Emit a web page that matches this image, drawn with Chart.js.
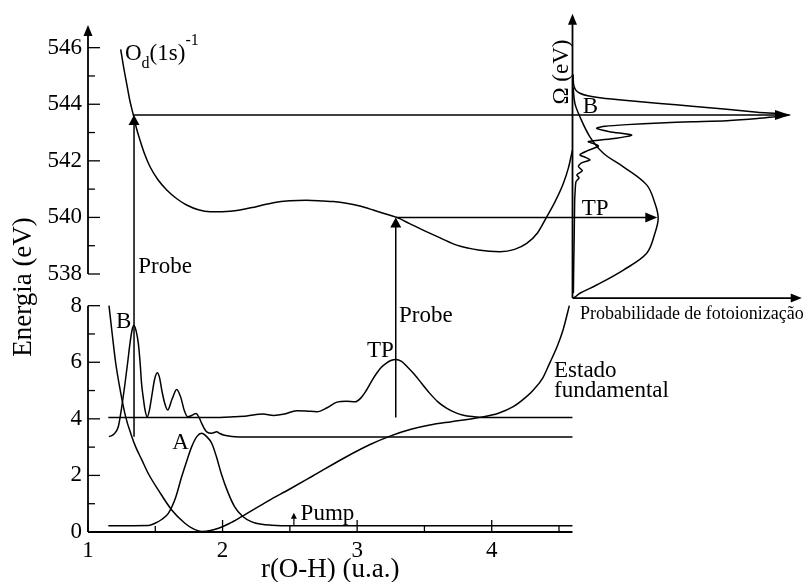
<!DOCTYPE html>
<html><head><meta charset="utf-8">
<script src="https://cdn.jsdelivr.net/npm/chart.js@4.4.1/dist/chart.umd.min.js"></script>
<style>html,body{margin:0;padding:0;background:#fff;}</style>
</head><body>
<canvas id="c" width="803" height="582"></canvas>
<script>
// ---------- data (r in u.a., energies in eV) ----------
const OFFSET = 528.88;           // broken energy axis: upper panel value = lower-axis value + OFFSET
const yTicksLower = [0, 2, 4, 6, 8];
const yMinorLower = [1, 3, 5, 7];
const yTicksUpper = [538, 540, 542, 544, 546];
const yMinorUpper = [539, 541, 543, 545];
const xTicks = [1, 2, 3, 4];
const xMinor = [1.5, 2.5, 3.5, 4.5];

// ground state potential "Estado fundamental"
const groundR = [1.156,1.18,1.205,1.24,1.28,1.32,1.355,1.40,1.45,1.523,1.622,1.72,1.78,1.845,1.91,1.97,2.05,2.14,2.34,2.5,2.67,2.92,3.1,3.245,3.4,3.54,3.7,3.91,4.05,4.16,4.25,4.31,4.38,4.43,4.49,4.53,4.577];
const groundE = [8.0,7.0,6.0,5.0,4.07,3.45,3.0,2.55,2.05,1.48,0.78,0.31,0.12,0.02,0.05,0.13,0.3,0.54,1.1,1.52,1.98,2.66,3.1,3.39,3.63,3.78,3.9,4.05,4.2,4.43,4.75,5.02,5.45,5.96,6.6,7.14,8.0];

// wave packet A (ground vibrational level)
const packetA_R = [1.151,1.45,1.498,1.55,1.597,1.65,1.696,1.74,1.77,1.81,1.845,1.88,1.92,1.955,1.99,2.04,2.09,2.15,2.217,2.29,2.365,2.5,4.6];
const packetA_E = [0.22,0.23,0.31,0.45,0.66,1.2,1.95,2.6,3.01,3.38,3.49,3.38,3.13,2.65,2.07,1.4,0.89,0.55,0.36,0.27,0.24,0.22,0.22];

// wave packet with peak B
const packetB_R = [1.156,1.19,1.225,1.25,1.275,1.295,1.312,1.328,1.342,1.358,1.374,1.387,1.398,1.412,1.424,1.44,1.456,1.473,1.495,1.515,1.532,1.548,1.57,1.592,1.625,1.659,1.69,1.715,1.741,1.77,1.803,1.825,1.845,1.865,1.882,1.92,1.957,1.98,2.006,2.07,2.2,4.6];
const packetB_E = [3.37,3.45,3.72,4.4,5.25,6.0,6.67,7.15,7.31,7.1,6.67,6.0,5.25,4.7,4.31,4.07,4.3,4.78,5.4,5.63,5.45,5.02,4.55,4.31,4.7,5.04,4.75,4.3,4.07,4.12,4.19,4.05,3.84,3.65,3.54,3.49,3.54,3.48,3.43,3.38,3.36,3.36];

// wave packet with peak TP
const packetTP_R = [1.151,1.9,1.98,2.08,2.18,2.30,2.38,2.46,2.55,2.62,2.70,2.78,2.85,2.92,2.985,3.03,3.07,3.11,3.145,3.18,3.22,3.25,3.287,3.33,3.37,3.418,3.48,3.54,3.60,3.667,3.73,3.79,3.86,3.94,4.6];
const packetTP_E = [4.05,4.05,4.05,4.07,4.10,4.17,4.12,4.17,4.29,4.28,4.25,4.40,4.59,4.62,4.60,4.75,5.02,5.35,5.61,5.82,5.98,6.06,6.10,6.03,5.85,5.61,5.25,4.90,4.60,4.37,4.22,4.13,4.08,4.05,4.05];

// core-ionized state O_d(1s)^-1
const coreR = [1.243,1.265,1.287,1.31,1.337,1.36,1.386,1.42,1.461,1.52,1.585,1.66,1.733,1.82,1.907,2.0,2.13,2.25,2.377,2.5,2.625,2.75,2.823,2.92,3.02,3.12,3.2,3.294,3.39,3.49,3.62,3.74,3.9,4.06,4.17,4.26,4.34,4.41,4.47,4.532,4.57,4.60];
const coreE = [545.94,545.3,544.74,544.15,543.62,543.15,542.74,542.25,541.79,541.33,540.97,540.66,540.44,540.27,540.20,540.20,540.26,540.38,540.52,540.59,540.61,540.58,540.56,540.50,540.40,540.26,540.14,540.0,539.78,539.55,539.27,539.02,538.85,538.79,538.87,539.08,539.45,540.03,540.55,541.2,541.75,542.38];

// photoionization spectra (probability, Omega in eV)
const specB_P = [0.003,0.005,0.015,0.034,0.07,0.126,0.25,0.402,0.55,0.709,0.85,1.0,0.85,0.709,0.55,0.402,0.25,0.15,0.111,0.17,0.272,0.2,0.073,0.1,0.119,0.07,0.034,0.06,0.08,0.04,0.027,0.045,0.02,0.03,0.016,0.012,0.010,0.008,0.006,0.004];
const specB_E = [545.05,544.70,544.50,544.39,544.30,544.23,544.13,544.03,543.93,543.82,543.72,543.62,543.50,543.42,543.38,543.34,543.28,543.22,543.15,543.03,542.91,542.80,542.68,542.60,542.52,542.36,542.21,542.12,542.03,541.92,541.80,541.65,541.5,541.4,541.26,540.9,540.62,539.45,538.5,537.33];
const specTP_P = [0.003,0.011,0.034,0.08,0.142,0.234,0.341,0.379,0.394,0.379,0.341,0.234,0.111,0.034,0.011,0.003];
const specTP_E = [544.6,544.03,543.56,542.85,542.27,541.79,541.15,540.50,539.97,539.44,538.73,538.14,537.61,537.32,537.18,537.15];

// probe / pump transitions
const probeB = {r: 1.342, from: 3.37, to: 543.62, specTip: 1.0};
const probeTP = {r: 3.287, from: 4.05, to: 540.0, specTip: 0.39};
const pump = {r: 2.53, from: 0.22, to: 0.68};

// ---------- chart ----------
const SERIF = '"Liberation Serif", "Times New Roman", serif';
const X_MAX = 1 + 715 / 134.57;
const Y_MAX = 532 / 28.29;
const P_MIN = -(572.5 - 88) / 217.5, P_MAX = (803 - 572.5) / 217.5;

const pts = (xs, ys) => xs.map((v, i) => ({x: v, y: ys[i]}));
const base = {showLine: true, pointRadius: 0, borderColor: '#000', borderWidth: 1.5, fill: false};
const lowCurve = (xs, ys) => Object.assign({}, base, {data: pts(xs, ys), xAxisID: 'x', yAxisID: 'y', cubicInterpolationMode: 'monotone'});

const datasets = [
  lowCurve(groundR, groundE),
  lowCurve(packetA_R, packetA_E),
  lowCurve(packetB_R, packetB_E),
  lowCurve(packetTP_R, packetTP_E),
  Object.assign({}, base, {data: pts(coreR, coreE), xAxisID: 'x', yAxisID: 'yU', cubicInterpolationMode: 'monotone'}),
  Object.assign({}, base, {data: pts(specB_P, specB_E), xAxisID: 'xP', yAxisID: 'yU', tension: 0.25}),
  Object.assign({}, base, {data: pts(specTP_P, specTP_E), xAxisID: 'xP', yAxisID: 'yU', tension: 0.35})
];

const deco = {
  id: 'deco',
  afterDatasetsDraw(chart) {
    const {ctx, scales} = chart;
    const X = v => scales.x.getPixelForValue(v);
    const Y = v => scales.y.getPixelForValue(v);
    const YU = v => scales.yU.getPixelForValue(v);
    const XP = v => scales.xP.getPixelForValue(v);
    ctx.save();
    ctx.strokeStyle = '#000'; ctx.fillStyle = '#000'; ctx.lineCap = 'butt';
    const line = (x1, y1, x2, y2, w) => { ctx.lineWidth = w || 1.5; ctx.beginPath(); ctx.moveTo(x1, y1); ctx.lineTo(x2, y2); ctx.stroke(); };
    const head = (tx, ty, dx, dy, len, w) => {
      len = len || 11; w = w || 10;
      const bx = tx - dx * len, by = ty - dy * len, px = -dy, py = dx;
      ctx.beginPath(); ctx.moveTo(tx, ty);
      ctx.lineTo(bx + px * w / 2, by + py * w / 2); ctx.lineTo(bx - px * w / 2, by - py * w / 2);
      ctx.closePath(); ctx.fill();
    };
    // axes of the main plot
    const x0 = X(1);
    line(x0, Y(0), x0, Y(8), 1.8);
    line(x0, YU(538), x0, YU(546.8) + 6, 1.8); head(x0, YU(546.8), 0, -1, 11, 9);
    line(x0, Y(0), X(4.6), Y(0), 1.8);
    yTicksLower.forEach(v => line(x0, Y(v), x0 + 12, Y(v), 1.3));
    yMinorLower.forEach(v => line(x0, Y(v), x0 + 7, Y(v), 1.3));
    yTicksUpper.forEach(v => line(x0, YU(v), x0 + 12, YU(v), 1.3));
    yMinorUpper.forEach(v => line(x0, YU(v), x0 + 7, YU(v), 1.3));
    xTicks.forEach(v => line(X(v), Y(0), X(v), Y(0) - 12, 1.3));
    xMinor.forEach(v => line(X(v), Y(0), X(v), Y(0) - 6, 1.3));
    // axes of the spectrum panel
    line(XP(0), YU(537.15), XP(0), YU(547.2) + 6, 1.8); head(XP(0), YU(547.2), 0, -1, 11, 9);
    line(XP(0), YU(537.15), XP(1.054) - 6, YU(537.15), 1.8); head(XP(1.054), YU(537.15), 1, 0, 11, 9);
    // probe arrows
    [probeB, probeTP].forEach(p => {
      line(X(p.r), Y(p.from), X(p.r), YU(p.to) + 6, 1.5); head(X(p.r), YU(p.to), 0, -1, 10, 11);
      line(X(p.r), YU(p.to), XP(p.specTip) - 6, YU(p.to), 1.5);
    });
    head(XP(probeB.specTip), YU(probeB.to), 1, 0, 15, 10);
    head(XP(probeTP.specTip), YU(probeTP.to), 1, 0, 12, 10);
    // pump
    line(X(pump.r), Y(pump.from), X(pump.r), Y(pump.to) + 4, 1.2); head(X(pump.r), Y(pump.to), 0, -1, 6, 6);

    // texts
    const txt = (s, x, y, size, align, baseline) => {
      ctx.font = size + 'px ' + SERIF; ctx.textAlign = align || 'left'; ctx.textBaseline = baseline || 'alphabetic';
      ctx.fillText(s, x, y);
    };
    txt('B', X(1.208), Y(7.21), 23);
    txt('A', X(1.626), Y(2.93), 23);
    txt('TP', X(3.073), Y(6.19), 23);
    txt('Probe', X(3.311), Y(7.42), 23);
    txt('Estado', X(4.463), Y(5.48), 23);
    txt('fundamental', X(4.463), Y(4.78), 23);
    txt('Pump', X(2.58), Y(0.42), 23);
    txt('Probe', X(1.374), YU(538.02), 23);
    txt('B', XP(0.047), YU(543.68), 23);
    txt('TP', XP(0.042), YU(540.09), 23);
    txt('Probabilidade de fotoionização', XP(0.034), YU(536.41), 18);
    // O_d(1s)^-1
    let ox = X(1.275), oy = YU(545.57);
    ctx.font = '23px ' + SERIF; ctx.textAlign = 'left'; ctx.textBaseline = 'alphabetic';
    ctx.fillText('O', ox, oy); ox += ctx.measureText('O').width;
    ctx.font = '16px ' + SERIF; ctx.fillText('d', ox, oy + 8); ox += ctx.measureText('d').width;
    ctx.font = '23px ' + SERIF; ctx.fillText('(1s)', ox, oy); ox += ctx.measureText('(1s)').width;
    ctx.font = '16px ' + SERIF; ctx.fillText('-1', ox, oy - 15);
    // rotated texts
    const rot = (s, x, y, size) => {
      ctx.save(); ctx.translate(x, y); ctx.rotate(-Math.PI / 2);
      ctx.font = size + 'px ' + SERIF; ctx.textAlign = 'center'; ctx.textBaseline = 'middle';
      ctx.fillText(s, 0, 0); ctx.restore();
    };
    rot('Ω (eV)', XP(-0.05), YU(545.14), 23);
    const ca = chart.chartArea;
    rot('Energia (eV)', ca.left - 64, 287, 27);
    txt('r(O-H) (u.a.)', X(2.8), ca.bottom + 45, 27, 'center');
    ctx.restore();
  }
};

new Chart(document.getElementById('c'), {
  type: 'scatter',
  data: {datasets},
  options: {
    responsive: false, animation: false, devicePixelRatio: 1,
    layout: {padding: 0},
    plugins: {legend: {display: false}, tooltip: {enabled: false}},
    scales: {
      x: {type: 'linear', position: 'bottom', min: 1, max: X_MAX,
          grid: {display: false, drawTicks: false}, border: {display: false},
          ticks: {color: '#000', font: {family: SERIF, size: 23}, padding: 5, maxRotation: 0, autoSkip: false},
          afterBuildTicks: s => { s.ticks = xTicks.map(v => ({value: v})); },
          afterFit: s => { s.height = 50; s.paddingLeft = 0; s.paddingRight = 0; s.paddingTop = 0; s.paddingBottom = 0; }},
      y: {type: 'linear', position: 'left', min: 0, max: Y_MAX,
          grid: {display: false, drawTicks: false}, border: {display: false},
          ticks: {color: '#000', font: {family: SERIF, size: 23}, padding: 6, autoSkip: false,
                  callback: v => v > 8.5 ? String(Math.round(v + OFFSET)) : String(v)},
          afterBuildTicks: s => { s.ticks = yTicksLower.map(v => ({value: v})).concat(yTicksUpper.map(v => ({value: v - OFFSET}))); },
          afterFit: s => { s.width = 88; s.paddingTop = 0; s.paddingBottom = 0; s.paddingLeft = 0; s.paddingRight = 0; }},
      xP: {type: 'linear', display: false, min: P_MIN, max: P_MAX},
      yU: {type: 'linear', display: false, min: OFFSET, max: OFFSET + Y_MAX}
    }
  },
  plugins: [deco]
});
</script>
</body></html>
